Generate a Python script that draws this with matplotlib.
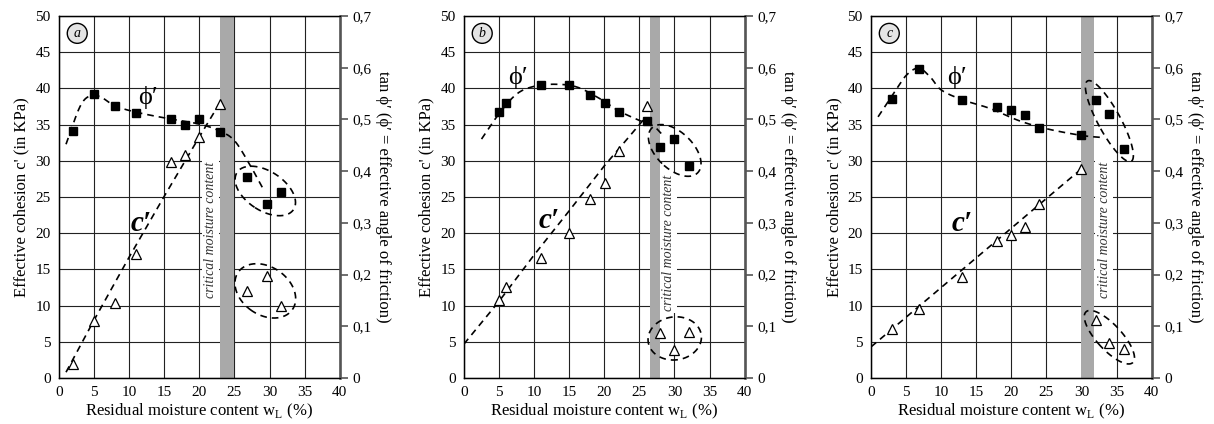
import numpy as np
import matplotlib.pyplot as plt

plt.rcParams['font.family'] = ['Liberation Serif', 'DejaVu Serif']

# ---- panel a ----
a_w = [2, 5, 8, 11, 16, 18, 20, 23]
a_c = [2.0, 7.9, 10.4, 17.1, 29.8, 30.8, 33.3, 37.9]
a_tan = [0.477, 0.550, 0.526, 0.512, 0.501, 0.489, 0.501, 0.476]
a_w_out = [26.8, 29.7, 31.7]
a_c_out = [12.0, 14.1, 10.0]
a_tan_out = [0.388, 0.337, 0.360]
a_phi_knots_w = [1, 3, 4.5, 6, 8, 11, 15, 20, 23, 25, 27, 29]
a_phi_knots_t = [0.452, 0.525, 0.546, 0.543, 0.526, 0.514, 0.503, 0.491, 0.477, 0.459, 0.417, 0.368]
a_c_line_w = [1, 5, 10, 15, 20, 22.8]
a_c_line_c = [0.8, 8.0, 16.7, 25.1, 33.3, 37.8]
a_band = (23, 25)

# ---- panel b ----
b_w = [5, 6, 11, 15, 18, 20.1, 22.1, 26.1]
b_c = [10.8, 12.6, 16.6, 20.0, 24.7, 26.9, 31.4, 37.5]
b_tan = [0.514, 0.531, 0.566, 0.566, 0.547, 0.531, 0.514, 0.497]
b_w_out = [28, 30, 32.1]
b_c_out = [6.2, 3.8, 6.4]
b_tan_out = [0.447, 0.463, 0.410]
b_phi_knots_w = [2.5, 5, 7.5, 10, 13, 16, 19, 22, 25, 27, 28.3]
b_phi_knots_t = [0.462, 0.511, 0.549, 0.564, 0.568, 0.563, 0.543, 0.517, 0.498, 0.487, 0.470]
b_c_line_w = [0, 5, 10, 15, 20, 25.7]
b_c_line_c = [4.7, 10.6, 17.0, 23.1, 29.3, 35.8]
b_band = (26.5, 27.9)

# ---- panel c ----
c_w = [3, 6.9, 12.9, 17.9, 20, 21.9, 24, 29.9]
c_c = [6.7, 9.5, 13.9, 18.9, 19.8, 20.9, 24.0, 28.9]
c_tan = [0.539, 0.598, 0.538, 0.524, 0.518, 0.508, 0.483, 0.469]
c_w_out = [32, 33.9, 36]
c_c_out = [8.0, 4.9, 4.0]
c_tan_out = [0.538, 0.510, 0.442]
c_phi_knots_w = [1, 3, 5, 6.8, 8.5, 10, 13, 17, 21, 25, 30, 33]
c_phi_knots_t = [0.505, 0.546, 0.585, 0.599, 0.581, 0.557, 0.538, 0.521, 0.498, 0.482, 0.469, 0.465]
c_c_line_w = [0, 30]
c_c_line_c = [4.3, 28.9]
c_band = (29.9, 31.8)

tan_ticks = [0, 0.1, 0.2, 0.3, 0.4, 0.5, 0.6, 0.7]
c_ticks = list(range(0, 51, 5))
w_ticks = list(range(0, 41, 5))

DASH = (0, (4, 3))


def smooth(xs, ys, n=20):
    # Catmull-Rom curve through the knots
    p = np.column_stack([xs, ys]).astype(float)
    p = np.vstack([2 * p[0] - p[1], p, 2 * p[-1] - p[-2]])
    t = np.linspace(0, 1, n, endpoint=False)[:, None]
    out = []
    for i in range(1, len(p) - 2):
        p0, p1, p2, p3 = p[i - 1], p[i], p[i + 1], p[i + 2]
        seg = 0.5 * (2 * p1 + (-p0 + p2) * t + (2 * p0 - 5 * p1 + 4 * p2 - p3) * t ** 2
                     + (-p0 + 3 * p1 - 3 * p2 + p3) * t ** 3)
        out.append(seg)
    out.append(p[-2][None])
    arr = np.vstack(out)
    return arr[:, 0], arr[:, 1]


def loop(ax, xs, ys, ymax, k=1.3, pad=0.08):
    # dashed ellipse around a cluster, computed in inch space
    bb = ax.get_position()
    fw, fh = ax.figure.get_size_inches()
    sx = bb.width * fw / 40
    sy = bb.height * fh / ymax
    P = np.column_stack([np.asarray(xs) * sx, np.asarray(ys) * sy])
    m = P.mean(0)
    vals, vecs = np.linalg.eigh(np.cov(P.T))
    r = k * np.sqrt(np.clip(vals, 0, None)) + pad
    t = np.linspace(0, 2 * np.pi, 200)[:, None]
    E = m + np.cos(t) * r[0] * vecs[:, 0] + np.sin(t) * r[1] * vecs[:, 1]
    ax.plot(E[:, 0] / sx, E[:, 1] / sy, ls=DASH, color='k', lw=1.2, zorder=4)


fig = plt.figure(figsize=(12.14, 4.24), dpi=100)
lefts = [0.0486, 0.3822, 0.7175]

panels = [
    dict(tag='a', w=a_w, c=a_c, tan=a_tan, wo=a_w_out, co=a_c_out, to=a_tan_out,
         kw=a_phi_knots_w, kt=a_phi_knots_t, lw_=a_c_line_w, lc=a_c_line_c, band=a_band,
         crit=(21.6, 20.4), phi_lbl=(12.7, 38.7), c_lbl=(11.7, 21.4)),
    dict(tag='b', w=b_w, c=b_c, tan=b_tan, wo=b_w_out, co=b_c_out, to=b_tan_out,
         kw=b_phi_knots_w, kt=b_phi_knots_t, lw_=b_c_line_w, lc=b_c_line_c, band=b_band,
         crit=(29.2, 18.7), phi_lbl=(7.7, 41.5), c_lbl=(12.2, 21.8)),
    dict(tag='c', w=c_w, c=c_c, tan=c_tan, wo=c_w_out, co=c_c_out, to=c_tan_out,
         kw=c_phi_knots_w, kt=c_phi_knots_t, lw_=c_c_line_w, lc=c_c_line_c, band=c_band,
         crit=(33.2, 20.4), phi_lbl=(12.3, 41.5), c_lbl=(13.0, 21.3)),
]

for left, p in zip(lefts, panels):
    ax = fig.add_axes([left, 0.1085, 0.2312, 0.8538])
    ax.set_xlim(0, 40)
    ax.set_ylim(0, 50)
    ax.set_xticks(w_ticks)
    ax.set_yticks(c_ticks)
    ax.grid(True, color='#222222', lw=0.8)
    ax.set_axisbelow(True)
    ax.tick_params(axis='both', length=0, labelsize=11, pad=6)
    for s in ax.spines.values():
        s.set_linewidth(1.0)

    ax.axvspan(*p['band'], color='#a9a9a9', lw=0, zorder=1.5)
    ax.text(*p['crit'], 'critical moisture content', rotation=90, ha='center', va='center',
            style='italic', fontsize=10, color='#333333', zorder=2,
            bbox=dict(fc='white', ec='none', pad=1.5))

    # c' series (left axis)
    ax.plot(p['lw_'], p['lc'], ls=DASH, color='k', lw=1.2, zorder=3)
    ax.plot(p['w'] + p['wo'], p['c'] + p['co'], ls='none', marker='^', ms=7.5,
            mfc='white', mec='k', mew=0.9, zorder=5)
    loop(ax, p['wo'], p['co'], 50)

    ax.set_xlabel('Residual moisture content w$_\\mathregular{L}$ (%)', fontsize=12, labelpad=2)
    ax.set_ylabel("Effective cohesion c' (in KPa)", fontsize=12, labelpad=4)

    ax.text(*p['phi_lbl'], '\u03d5\u2032', fontsize=19, ha='center', va='center', zorder=6)
    ax.text(*p['c_lbl'], 'c\u2032', fontsize=21, style='italic', fontweight='bold',
            ha='center', va='center', zorder=6)
    ax.text(2.6, 47.6, p['tag'], fontsize=10, style='italic', ha='center', va='center', zorder=6,
            bbox=dict(boxstyle='circle,pad=0.25', fc='#e4e4e4', ec='k', lw=1.0))

    # tan phi series (right axis)
    ax2 = ax.twinx()
    ax2.set_ylim(0, 0.7)
    ax2.set_yticks(tan_ticks)
    ax2.set_yticklabels(['0' if v == 0 else f'{v:.1f}'.replace('.', ',') for v in tan_ticks])
    ax2.spines['right'].set_linewidth(1.8)
    ax2.spines['right'].set_color('#555555')
    ax2.tick_params(axis='y', direction='out', length=6, width=1.2, color='#555555',
                    labelsize=11, pad=3)
    sx, sy = smooth(p['kw'], p['kt'])
    ax2.plot(sx, sy, ls=DASH, color='k', lw=1.2, zorder=3)
    ax2.plot(p['w'] + p['wo'], p['tan'] + p['to'], ls='none', marker='s', ms=5.5,
             mfc='k', mec='k', zorder=5)
    loop(ax2, p['wo'], p['to'], 0.7)
    ax2.set_ylabel("tan \u03d5\u2032 (\u03d5\u2032 = effective angle of friction)", fontsize=12,
                   rotation=270, labelpad=14)

fig.savefig('out.png', dpi=100)
